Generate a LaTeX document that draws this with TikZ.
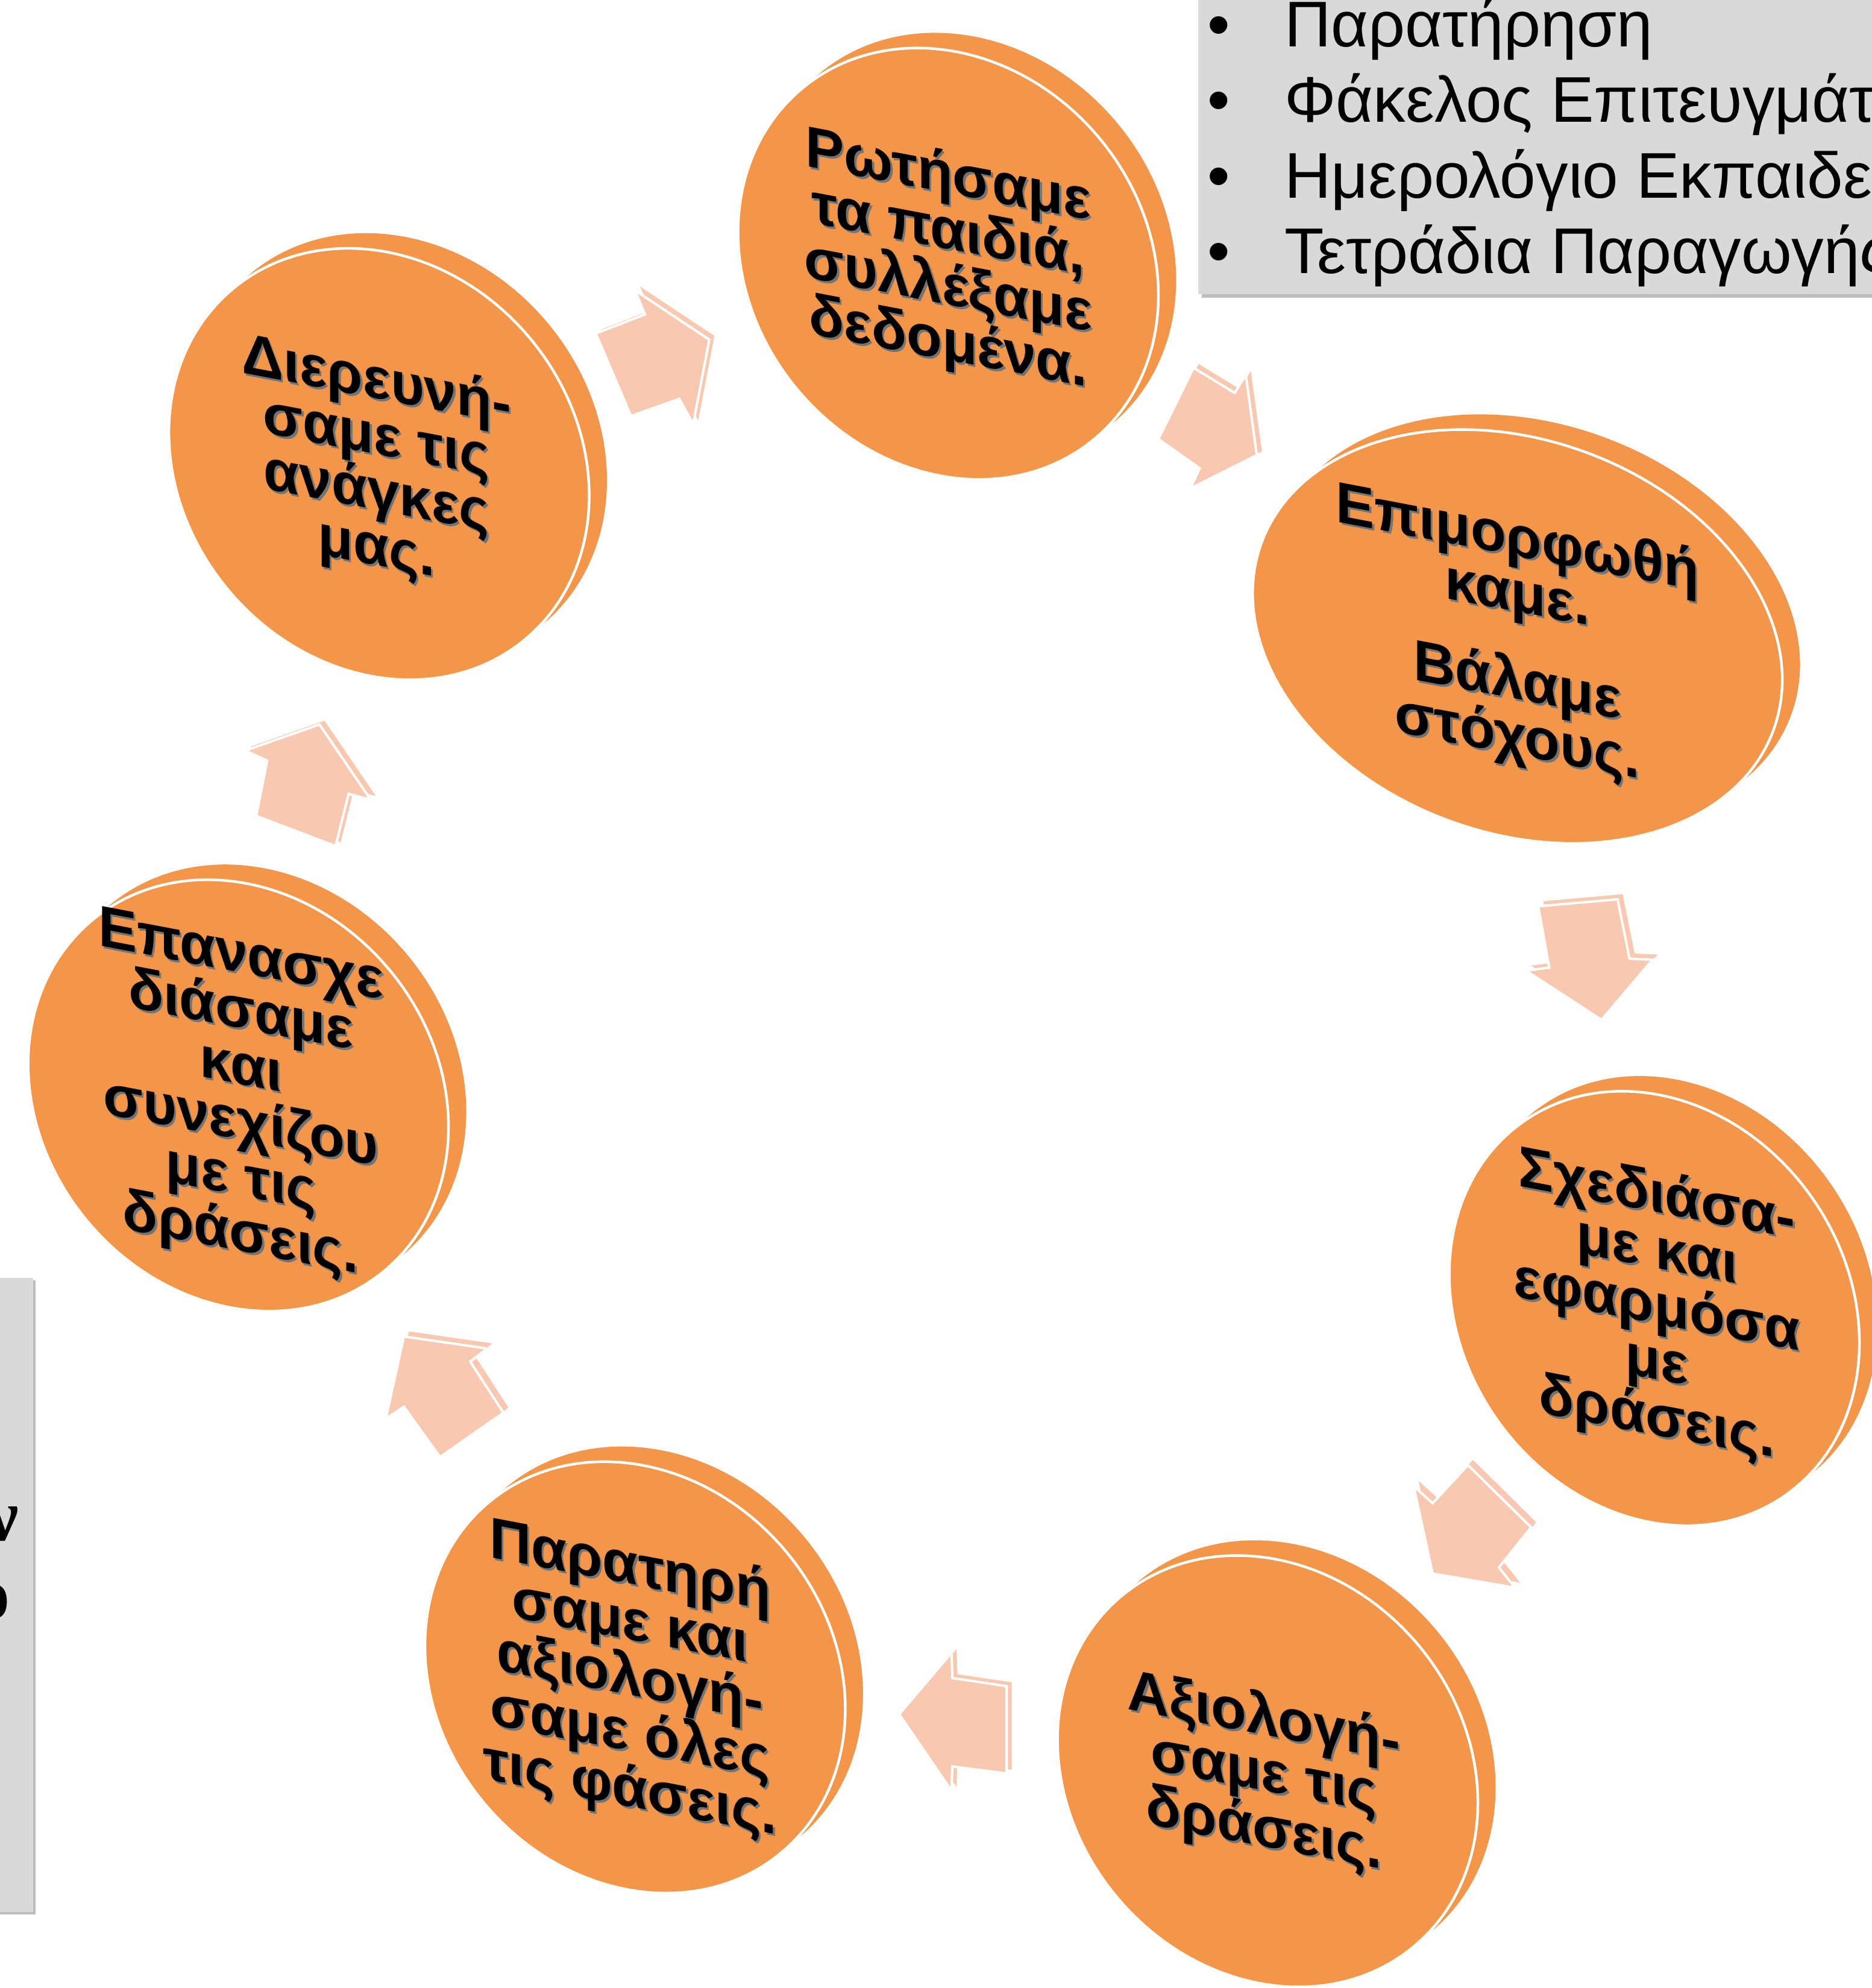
\documentclass[tikz,border=0pt]{standalone}
\usepackage{fontspec}
\setmainfont{Liberation Sans}
\newfontfamily\edgefont{Liberation Serif}
\usepackage{xcolor}
\usetikzlibrary{positioning}

\definecolor{discorange}{HTML}{F39649}
\definecolor{arrowpeach}{HTML}{F8C8B1}
\definecolor{panelgrey}{HTML}{D9D9D9}
\definecolor{panelshade}{HTML}{BDBDBD}

% label with a dark drop shadow behind it
\newcommand{\steplabel}[3]{%
  \node[steptext, text=black!55, xshift=0.9pt, yshift=-0.9pt] (#1s) at (#2) {#3};
  \node[steptext] (#1) at (#2) {#3};}

% block arrow: back copy for the thickness, front face with a white rim
\newcommand{\blockarrow}[2]{%
  \fill[peach, shift={(#1)}] #2;
  \filldraw[peachface] #2;}

\begin{document}
\begin{tikzpicture}[x=0.02cm, y=-0.02cm,
    disc/.style={fill=discorange},
    discface/.style={fill=discorange, draw=white, line width=1.2pt},
    peach/.style={fill=arrowpeach},
    peachface/.style={fill=arrowpeach, draw=white, line width=1.1pt, line join=miter},
    steptext/.style={font=\bfseries\fontsize{26}{25}\selectfont, align=center,
        yslant=-0.19, inner sep=0pt},
    paneltext/.style={font=\fontsize{29}{29}\selectfont, anchor=base west, inner sep=0pt}]

    \useasboundingbox (0,0) rectangle (1476.7,1568);
    \clip (0,0) rectangle (1476.7,1568);

    % Grey panels at the edges
    \fill[panelshade] (948,-5) rectangle (1490,235);
    \fill[panelgrey] (945,-5) rectangle (1490,232);
    \foreach \txt [count=\i] in {Παρατήρηση, Φάκελος Επιτευγμάτων, Ημερολόγιο Εκπαιδευτικού, Τετράδια Παραγωγής} {
        \pgfmathsetmacro\by{37+59.5*(\i-1)}
        \node[paneltext] (b\i) at (952,\by) {•};
        \node[paneltext] (p\i) at (1013,\by) {\txt};
    }
    \fill[panelshade] (-5,1010) rectangle (28,1510);
    \fill[panelgrey] (-5,1008) rectangle (26,1508);
    \node[anchor=base east, inner sep=0pt, font=\edgefont\bfseries\fontsize{33}{33}\selectfont] (e1) at (15,1215) {ν};
    \node[anchor=base east, inner sep=0pt, font=\edgefont\bfseries\fontsize{33}{33}\selectfont] (e2) at (8,1277) {ο};

    % Discs: rim behind, face in front
    \foreach \cx/\cy/\tilt/\ra/\rb in {748/208/50/180/155, 1197/502/20/215/155,
        1305/1032/55/180/152, 1000/1397/50/180/155, 501/1323/50/180/155,
        188/864/50/180/155, 299/366/50/180/155} {
        \fill[disc, shift={(14,-12)}, rotate around={-\tilt:(\cx,\cy)}] (\cx,\cy) ellipse [x radius=\ra, y radius=\rb];
        \filldraw[discface, rotate around={-\tilt:(\cx,\cy)}] (\cx,\cy) ellipse [x radius=\ra, y radius=\rb];
    }

    % Arrows between the discs
    \blockarrow{4,-3}{(470,263) -- (508.8,248) -- (500.9,229) -- (559.5,267.9) -- (546.8,334.4) -- (535.8,314.6) -- (497.7,328.1) -- cycle}
    \blockarrow{4,-3}{(913.8,346.3) -- (941.5,290.1) -- (974.0,309.9) -- (982.7,295.6) -- (991.4,359.0) -- (939.1,385.2) -- (946.3,369.3) -- cycle}
    \blockarrow{4,-4}{(1213.4,714.8) -- (1276.0,709.3) -- (1285.4,756.1) -- (1303.7,756.9) -- (1263.3,804.4) -- (1203.8,765.6) -- (1222.1,763.2) -- cycle}
    \blockarrow{4,-4}{(1157.9,1155.5) -- (1130.1,1185.6) -- (1115.1,1172.1) -- (1130.1,1241.1) -- (1195.1,1252.2) -- (1182.4,1236.3) -- (1207.8,1204.6) -- cycle}
    \blockarrow{4,-3}{(709.3,1352.1) -- (750.5,1303.7) -- (751.3,1323.5) -- (794.1,1329.9) -- (794.1,1398.8) -- (751.3,1393.2) -- (750.5,1412.3) -- cycle}
    \blockarrow{4,-4}{(318.6,1054.1) -- (384.4,1063.6) -- (370.9,1073.9) -- (397.1,1114.3) -- (347.1,1149.2) -- (318.6,1109.5) -- (304.3,1119.0) -- cycle}
    \blockarrow{4,-3}{(193.4,592.0) -- (210.8,599.9) -- (202.1,643.5) -- (264.7,667.3) -- (275.0,626.1) -- (292.4,630.8) -- (252.0,571.4) -- cycle}

    % Labels on the discs
    \steplabel{c1}{748,206}{Ρωτήσαμε\\τα παιδιά,\\συλλέξαμε\\δεδομένα.}
    \steplabel{c2}{1197,505}{Επιμορφωθή\\καμε.\\[0.55em]Βάλαμε\\στόχους.}
    \steplabel{c3}{1307,1032}{Σχεδιάσα-\\με και\\εφαρμόσα\\με\\δράσεις.}
    \steplabel{c4}{997,1400}{Αξιολογή-\\σαμε τις\\δράσεις.}
    \steplabel{c5}{497,1325}{Παρατηρή\\σαμε και\\αξιολογή-\\σαμε όλες\\τις φάσεις.}
    \steplabel{c6}{190,866}{Επανασχε\\διάσαμε\\και\\συνεχίζου\\με τις\\δράσεις.}
    \steplabel{c7}{297,368}{Διερευνή-\\σαμε τις\\ανάγκες\\μας.}
\end{tikzpicture}
\end{document}
